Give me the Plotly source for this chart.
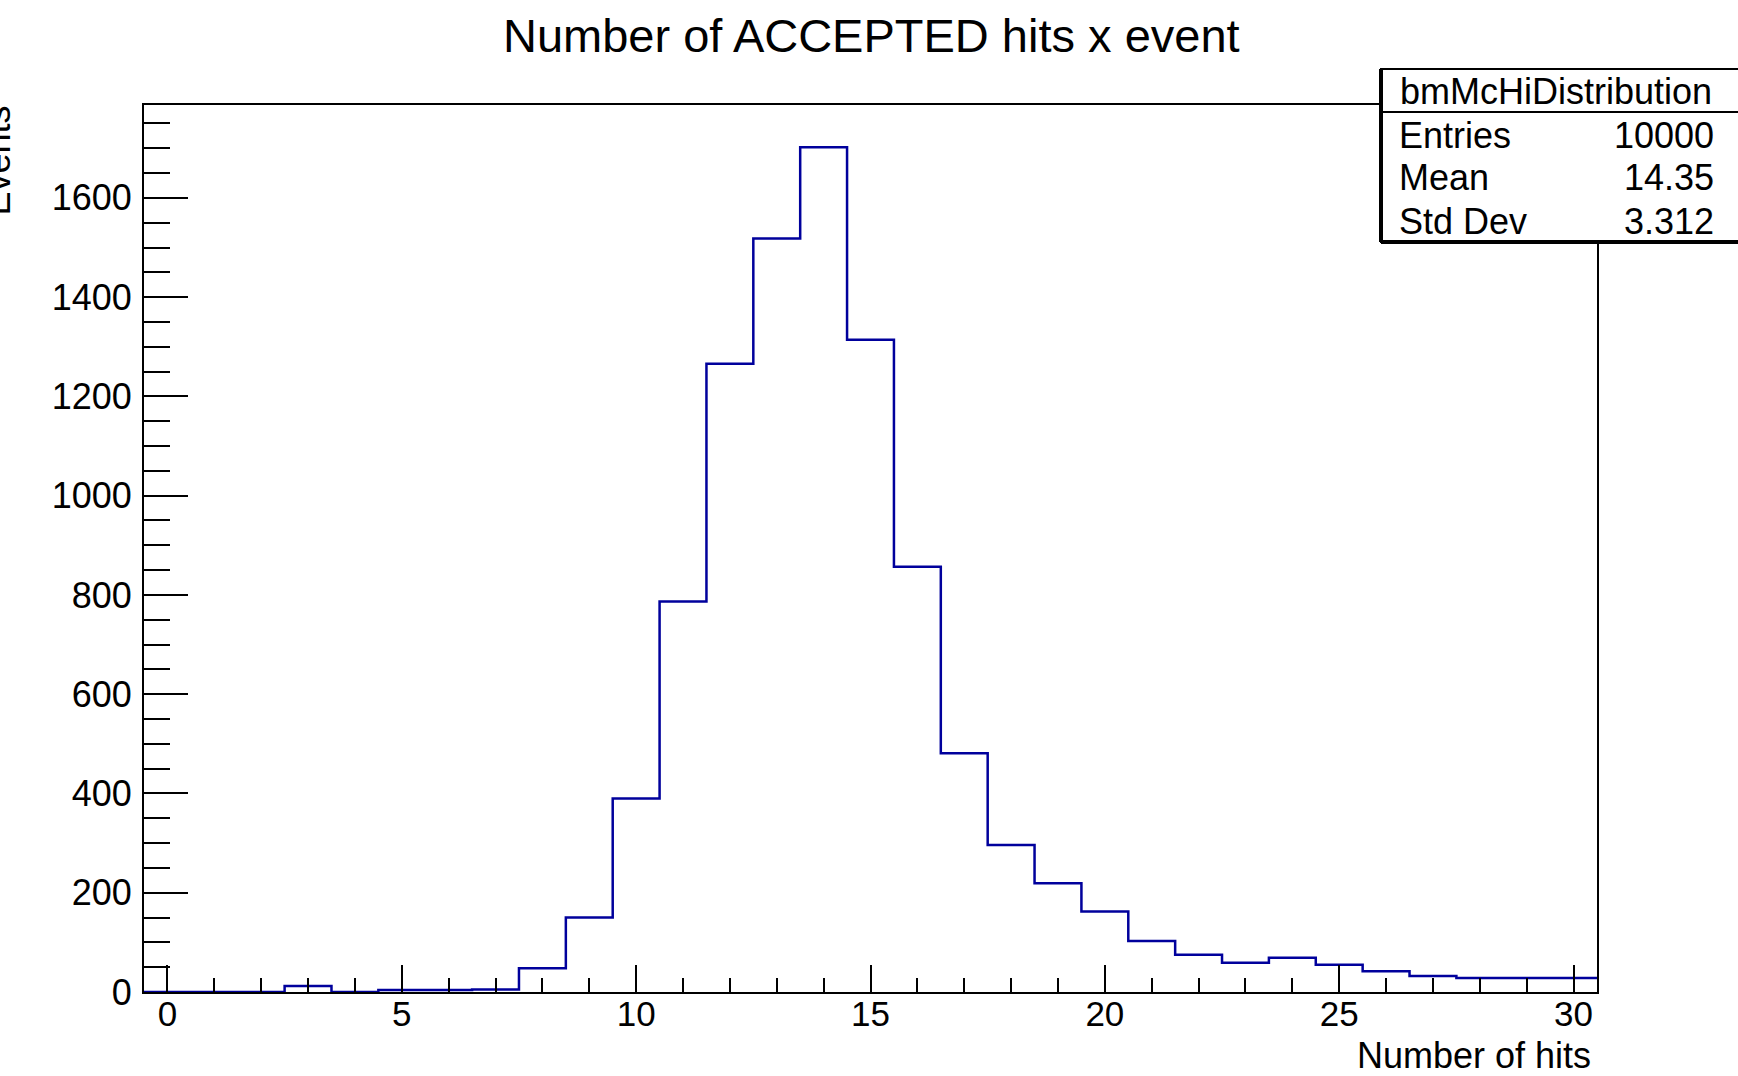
import plotly.graph_objects as go

# ---------------- data ----------------
bin_centers = list(range(0, 31))
counts = [0, 0, 0, 12, 0, 4, 4, 5, 48, 150,
          390, 787, 1266, 1518, 1702, 1314, 857, 481, 296, 219,
          162, 103, 75, 59, 69, 55, 42, 32, 28, 28, 28]
x_tick_vals = [0, 5, 10, 15, 20, 25, 30]
y_tick_vals = [0, 200, 400, 600, 800, 1000, 1200, 1400, 1600]
hist_name = "bmMcHiDistribution"
stat_labels = ["Entries", "Mean", "Std Dev"]
stat_values = ["10000", "14.35", "3.312"]
title_text = "Number of ACCEPTED hits x event"
x_title = "Number of hits"
y_title = "Events"

# ---------------- geometry ----------------
W, H = 1738, 1076
L, R, T, B = 144, 1597, 105, 992
FONT = "Liberation Sans, Arial, Helvetica, sans-serif"
BLUE = "#00009c"


def px_x(p):
    return (p - L) / (R - L)


def px_y(p):
    return (B - p) / (B - T)


half = 0.5
edges = [c - half for c in bin_centers] + [bin_centers[-1] + half]
x_pts = edges
y_pts = counts + [counts[-1]]

fig = go.Figure()
fig.add_trace(go.Scatter(
    x=x_pts, y=y_pts, mode="lines", line=dict(shape="hv", color=BLUE, width=2.5),
    showlegend=False, hoverinfo="skip"))

ymax = max(counts) * 1.05

fig.update_layout(
    width=W, height=H, autosize=False,
    margin=dict(l=L, r=W - R, t=T, b=H - B, pad=0),
    paper_bgcolor="white", plot_bgcolor="white",
    font=dict(family=FONT, color="black", size=36),
    showlegend=False,
)

fig.update_xaxes(
    range=[edges[0], edges[-1]], tickvals=x_tick_vals, ticktext=[str(v) for v in x_tick_vals],
    ticks="inside", ticklen=27, tickwidth=2, tickcolor="black",
    minor=dict(ticks="inside", ticklen=14, tickwidth=2, tickcolor="black", dtick=1, showgrid=False),
    showline=True, linewidth=2, linecolor="black", mirror=True,
    showgrid=False, zeroline=False, tickfont=dict(size=35, family=FONT),
    ticklabelstandoff=-10,
)
fig.update_yaxes(
    range=[0, ymax], tickvals=y_tick_vals, ticktext=[str(v) for v in y_tick_vals],
    ticks="inside", ticklen=44, tickwidth=2, tickcolor="black",
    minor=dict(ticks="inside", ticklen=26, tickwidth=2, tickcolor="black", dtick=50, showgrid=False),
    showline=True, linewidth=2, linecolor="black", mirror=True,
    showgrid=False, zeroline=False, tickfont=dict(size=36, family=FONT),
    ticklabelstandoff=3,
)

ann = []
ann.append(dict(text=title_text, x=px_x(871), y=px_y(36), xref="paper", yref="paper",
                xanchor="center", yanchor="middle", showarrow=False,
                font=dict(size=47, family=FONT, color="black")))
ann.append(dict(text=x_title, x=px_x(1593), y=px_y(1055), xref="paper", yref="paper",
                xanchor="right", yanchor="middle", showarrow=False,
                font=dict(size=36, family=FONT, color="black")))
ann.append(dict(text=y_title, x=px_x(19), y=px_y(103), xref="paper", yref="paper",
                xanchor="right", yanchor="top", textangle=-90, showarrow=False,
                font=dict(size=36, family=FONT, color="black")))

# stats box
bx0, bx1, by0, by1, bsep = 1381, 1770, 69, 242, 112
shapes = [
    dict(type="rect", xref="paper", yref="paper", x0=px_x(bx0), x1=px_x(bx1),
         y0=px_y(by1), y1=px_y(by0), fillcolor="white", line=dict(color="black", width=2),
         layer="above"),
    dict(type="line", xref="paper", yref="paper", x0=px_x(bx0), x1=px_x(bx1),
         y0=px_y(bsep), y1=px_y(bsep), line=dict(color="black", width=2), layer="above"),
    dict(type="line", xref="paper", yref="paper", x0=px_x(bx0), x1=px_x(bx0),
         y0=px_y(by1), y1=px_y(by0), line=dict(color="black", width=4), layer="above"),
    dict(type="line", xref="paper", yref="paper", x0=px_x(bx0), x1=px_x(bx1),
         y0=px_y(by1), y1=px_y(by1), line=dict(color="black", width=4), layer="above"),
]
ann.append(dict(text=hist_name, x=px_x(1556), y=px_y(91), xref="paper", yref="paper",
                xanchor="center", yanchor="middle", showarrow=False,
                font=dict(size=36, family=FONT, color="black")))
row_y = [135, 178, 222]
for lab, val, yy in zip(stat_labels, stat_values, row_y):
    ann.append(dict(text=lab, x=px_x(1397), y=px_y(yy), xref="paper", yref="paper",
                    xanchor="left", yanchor="middle", showarrow=False,
                    font=dict(size=36, family=FONT, color="black")))
    ann.append(dict(text=val, x=px_x(1716), y=px_y(yy), xref="paper", yref="paper",
                    xanchor="right", yanchor="middle", showarrow=False,
                    font=dict(size=36, family=FONT, color="black")))

fig.update_layout(annotations=ann, shapes=shapes)
fig.write_html("out.html")
